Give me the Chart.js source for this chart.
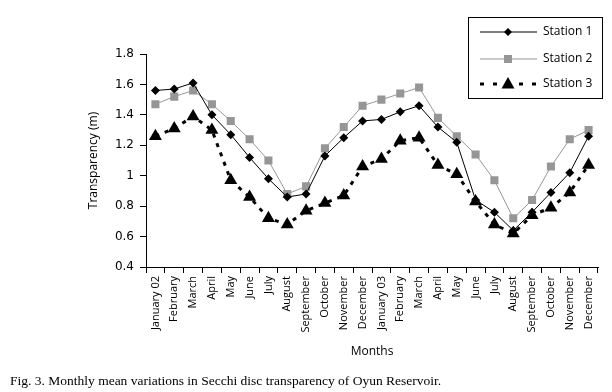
<!DOCTYPE html>
<html>
<head>
<meta charset="utf-8">
<script src="https://cdn.jsdelivr.net/npm/chart.js@4.4.1/dist/chart.umd.min.js"></script>
<style>
  body { margin: 0; background: #fff; }
  #wrap { position: relative; width: 612px; height: 392px; }
  #caption {
    position: absolute; left: 10px; top: 373px;
    font: 13.5px "Liberation Serif", "Times New Roman", serif; color: #000;
    white-space: nowrap;
  }
</style>
</head>
<body>
<div id="wrap">
  <canvas id="chart" width="612" height="392"></canvas>
  <div id="caption">Fig. 3. Monthly mean variations in Secchi disc transparency of Oyun Reservoir.</div>
</div>
<script>
// months, Jan 2002 - Dec 2003
const months = ['January 02', 'February', 'March', 'April', 'May', 'June', 'July', 'August',
  'September', 'October', 'November', 'December', 'January 03', 'February', 'March', 'April',
  'May', 'June', 'July', 'August', 'September', 'October', 'November', 'December'];

// Secchi depth (m)
const station1 = [1.56, 1.57, 1.61, 1.40, 1.27, 1.12, 0.98, 0.86, 0.88, 1.13, 1.25, 1.36,
  1.37, 1.42, 1.46, 1.32, 1.22, 0.84, 0.76, 0.64, 0.76, 0.89, 1.02, 1.26];
const station2 = [1.47, 1.52, 1.56, 1.47, 1.36, 1.24, 1.10, 0.88, 0.93, 1.18, 1.32, 1.46,
  1.50, 1.54, 1.58, 1.38, 1.26, 1.14, 0.97, 0.72, 0.84, 1.06, 1.24, 1.30];
const station3 = [1.26, 1.31, 1.39, 1.30, 0.97, 0.86, 0.72, 0.68, 0.77, 0.82, 0.87, 1.06,
  1.11, 1.23, 1.25, 1.07, 1.01, 0.83, 0.68, 0.62, 0.74, 0.79, 0.89, 1.07];

const yTicks = [0.4, 0.6, 0.8, 1, 1.2, 1.4, 1.6, 1.8];

const grey = 'rgb(150,150,150)';
const tickFont = { family: 'DejaVu Sans', size: 12 };
const labelFont = { family: 'Open Sans', size: 11 };
const titleFont = { family: 'Open Sans', size: 12 };

// legend box drawn by hand, top right
const legendBox = {
  id: 'legendBox',
  afterDraw(chart) {
    const ctx = chart.ctx;
    ctx.save();
    ctx.strokeStyle = '#000';
    ctx.lineWidth = 1;
    ctx.strokeRect(468.5, 17.5, 134, 81);

    const rows = [32, 59, 84];
    const x0 = 480, x1 = 537, mx = 508;
    ctx.font = '12px "Open Sans"';
    ctx.textBaseline = 'middle';
    ctx.fillStyle = '#000';

    // station 1
    ctx.beginPath(); ctx.moveTo(x0, rows[0]); ctx.lineTo(x1, rows[0]);
    ctx.strokeStyle = '#000'; ctx.lineWidth = 1; ctx.stroke();
    ctx.beginPath();
    ctx.moveTo(mx, rows[0] - 4); ctx.lineTo(mx + 4, rows[0]);
    ctx.lineTo(mx, rows[0] + 4); ctx.lineTo(mx - 4, rows[0]); ctx.closePath();
    ctx.fill();

    // station 2
    ctx.beginPath(); ctx.moveTo(x0, rows[1]); ctx.lineTo(x1, rows[1]);
    ctx.strokeStyle = grey; ctx.stroke();
    ctx.fillStyle = grey;
    ctx.fillRect(mx - 4, rows[1] - 4, 8, 8);

    // station 3
    ctx.setLineDash([4, 9]);
    ctx.lineWidth = 3;
    ctx.strokeStyle = '#000';
    ctx.beginPath(); ctx.moveTo(x0, rows[2]); ctx.lineTo(x1, rows[2]); ctx.stroke();
    ctx.setLineDash([]);
    ctx.fillStyle = '#000';
    ctx.beginPath();
    ctx.moveTo(mx, rows[2] - 7); ctx.lineTo(mx + 6.5, rows[2] + 4.5);
    ctx.lineTo(mx - 6.5, rows[2] + 4.5); ctx.closePath(); ctx.fill();

    ctx.fillStyle = '#000';
    ctx.fillText('Station 1', 543, rows[0]);
    ctx.fillText('Station 2', 543, rows[1]);
    ctx.fillText('Station 3', 543, rows[2]);
    ctx.restore();
  }
};

new Chart(document.getElementById('chart'), {
  type: 'line',
  data: {
    labels: months,
    datasets: [
      {
        label: 'Station 1', data: station1,
        borderColor: '#000', backgroundColor: '#000', borderWidth: 1,
        pointStyle: 'rectRot', pointRadius: 4.5, pointBorderWidth: 0
      },
      {
        label: 'Station 2', data: station2,
        borderColor: grey, backgroundColor: grey, borderWidth: 1,
        pointStyle: 'rect', pointRadius: 5.7, pointBorderWidth: 0
      },
      {
        label: 'Station 3', data: station3,
        borderColor: '#000', backgroundColor: '#000', borderWidth: 3,
        borderDash: [4, 6],
        pointStyle: 'triangle', pointRadius: 7.5, pointBorderWidth: 0
      }
    ]
  },
  options: {
    responsive: false,
    animation: false,
    layout: { padding: { left: 86, top: 54, right: 14, bottom: 33 } },
    plugins: { legend: { display: false }, tooltip: { enabled: false } },
    scales: {
      x: {
        offset: true,
        grid: { offset: true, drawOnChartArea: false, tickLength: 6, color: '#000' },
        border: { color: '#000' },
        ticks: { autoSkip: false, minRotation: 90, maxRotation: 90, padding: 3, color: '#000', font: labelFont },
        title: { display: true, text: 'Months', padding: 0, color: '#000', font: titleFont },
        afterFit(s) { s.height = 92; }
      },
      y: {
        min: 0.4, max: 1.8,
        afterBuildTicks(s) { s.ticks = yTicks.map(v => ({ value: v })); },
        grid: { drawOnChartArea: false, tickLength: 6, color: '#000' },
        border: { color: '#000' },
        ticks: { padding: 6, color: '#000', font: tickFont, callback: v => String(parseFloat(v.toFixed(1))) },
        title: { display: true, text: 'Transparency (m)', padding: 0, color: '#000', font: titleFont },
        afterFit(s) { s.width = 60; }
      }
    }
  },
  plugins: [legendBox]
});
</script>
</body>
</html>
